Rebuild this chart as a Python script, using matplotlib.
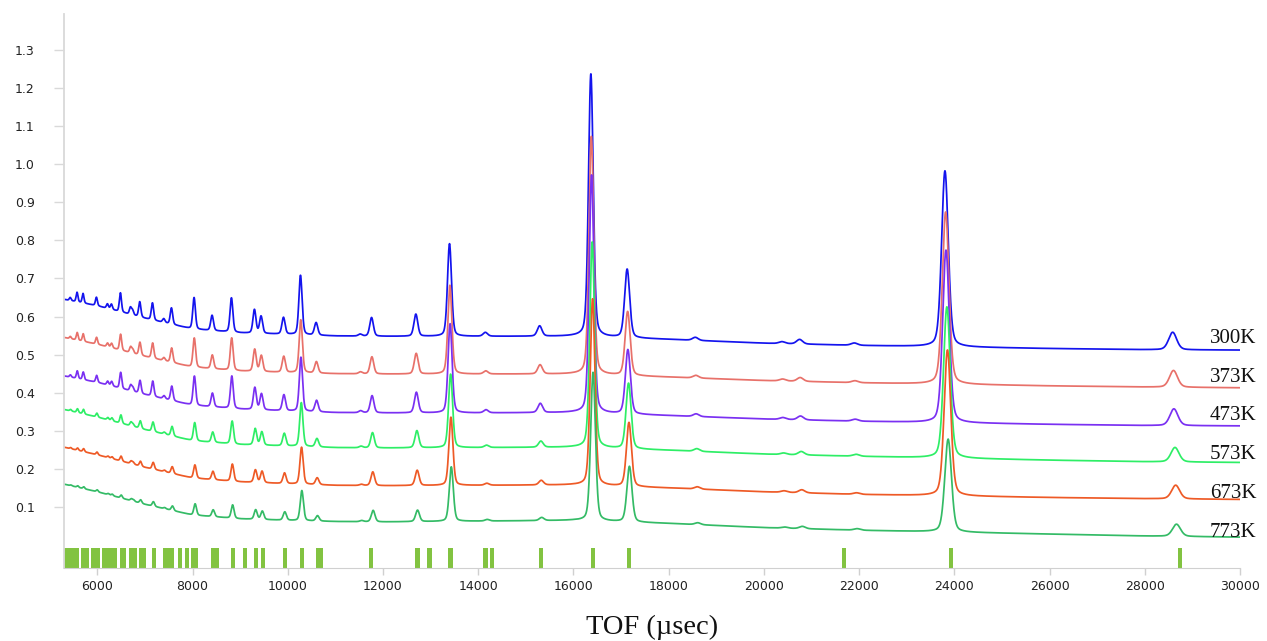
import numpy as np
import matplotlib
matplotlib.use("Agg")
import matplotlib.pyplot as plt

# temperatures, one curve each (top to bottom)
temps = ["300K", "373K", "473K", "573K", "673K", "773K"]
colors = ["#1414ee", "#e8716a", "#7a30f2", "#2eee66", "#ee5a26", "#34bb66"]

# background levels at these TOF values
bg_tof = [5300, 6000, 7000, 8000, 9000, 10000, 11000, 12000, 14000, 16000,
          18000, 20000, 22000, 24000, 26000, 28000, 30000]
bg_300 = [0.645, 0.628, 0.595, 0.567, 0.557, 0.553, 0.549, 0.548, 0.548, 0.548,
          0.540, 0.530, 0.524, 0.520, 0.516, 0.513, 0.512]
bg_373 = [0.545, 0.527, 0.495, 0.467, 0.457, 0.453, 0.450, 0.449, 0.449, 0.449,
          0.441, 0.432, 0.426, 0.422, 0.418, 0.415, 0.413]
bg_473 = [0.444, 0.427, 0.395, 0.367, 0.357, 0.352, 0.348, 0.347, 0.347, 0.348,
          0.340, 0.331, 0.325, 0.321, 0.317, 0.314, 0.313]
bg_573 = [0.356, 0.336, 0.303, 0.274, 0.264, 0.260, 0.256, 0.255, 0.256, 0.257,
          0.249, 0.239, 0.233, 0.228, 0.223, 0.219, 0.217]
bg_673 = [0.257, 0.237, 0.204, 0.176, 0.166, 0.161, 0.157, 0.156, 0.157, 0.158,
          0.150, 0.140, 0.133, 0.129, 0.125, 0.122, 0.120]
bg_773 = [0.160, 0.140, 0.107, 0.079, 0.069, 0.065, 0.062, 0.061, 0.063, 0.065,
          0.057, 0.046, 0.039, 0.034, 0.029, 0.024, 0.021]
backgrounds = [bg_300, bg_373, bg_473, bg_573, bg_673, bg_773]

# peak positions (TOF at 300K) and widths (FWHM, usec)
peak_tof = [5430, 5574, 5700, 5981, 6212, 6296, 6485, 6695, 6740, 6891, 7158, 7395,
            7557, 8032, 8410, 8817, 9300, 9439, 9910, 10267, 10595, 11520, 11760,
            12690, 13397, 14150, 15290, 16366, 17128, 18560, 20380, 20750, 21900,
            23803, 28586]
peak_fwhm = [45, 45, 45, 48, 50, 50, 52, 52, 52, 55, 58, 60,
             60, 66, 68, 70, 74, 74, 78, 80, 82, 90, 90,
             96, 100, 110, 115, 118, 125, 140, 150, 150, 160,
             165, 200]
# peak heights above background for each temperature
h_300 = [0.008, 0.025, 0.025, 0.022, 0.012, 0.014, 0.050, 0.018, 0.012, 0.040, 0.045, 0.010,
         0.043, 0.083, 0.040, 0.090, 0.062, 0.045, 0.044, 0.156, 0.033, 0.005, 0.049,
         0.058, 0.243, 0.010, 0.027, 0.690, 0.180, 0.008, 0.005, 0.012, 0.006,
         0.462, 0.046]
h_373 = [0.006, 0.020, 0.020, 0.018, 0.010, 0.012, 0.042, 0.015, 0.010, 0.034, 0.040, 0.008,
         0.038, 0.077, 0.036, 0.085, 0.058, 0.042, 0.042, 0.139, 0.030, 0.005, 0.045,
         0.054, 0.233, 0.008, 0.024, 0.625, 0.168, 0.007, 0.005, 0.010, 0.005,
         0.452, 0.044]
h_473 = [0.006, 0.020, 0.020, 0.018, 0.010, 0.012, 0.042, 0.015, 0.010, 0.034, 0.040, 0.008,
         0.038, 0.077, 0.036, 0.085, 0.058, 0.042, 0.042, 0.142, 0.030, 0.005, 0.045,
         0.054, 0.234, 0.008, 0.024, 0.625, 0.169, 0.007, 0.005, 0.010, 0.005,
         0.453, 0.044]
h_573 = [0.004, 0.010, 0.012, 0.010, 0.006, 0.008, 0.022, 0.010, 0.006, 0.020, 0.025, 0.005,
         0.025, 0.048, 0.027, 0.060, 0.043, 0.035, 0.033, 0.115, 0.022, 0.004, 0.040,
         0.045, 0.193, 0.006, 0.016, 0.540, 0.172, 0.007, 0.004, 0.009, 0.005,
         0.397, 0.038]
h_673 = [0.003, 0.006, 0.008, 0.007, 0.004, 0.005, 0.013, 0.007, 0.005, 0.013, 0.018, 0.004,
         0.018, 0.035, 0.022, 0.045, 0.033, 0.030, 0.028, 0.097, 0.018, 0.003, 0.036,
         0.040, 0.179, 0.005, 0.012, 0.490, 0.168, 0.006, 0.004, 0.008, 0.004,
         0.383, 0.036]
h_773 = [0.002, 0.004, 0.005, 0.005, 0.003, 0.004, 0.008, 0.005, 0.004, 0.009, 0.012, 0.003,
         0.012, 0.030, 0.018, 0.035, 0.025, 0.022, 0.022, 0.079, 0.014, 0.003, 0.030,
         0.030, 0.143, 0.004, 0.008, 0.390, 0.146, 0.005, 0.003, 0.006, 0.004,
         0.244, 0.032]
heights = [h_300, h_373, h_473, h_573, h_673, h_773]
# lattice expansion: peak positions grow slightly with temperature
tof_scale = [1.0, 1.0006, 1.0009, 1.0017, 1.0022, 1.0028]

# reflection markers along the bottom
bragg_tof = [5340, 5420, 5500, 5580, 5710, 5790, 5920, 6020, 6150, 6230, 6300, 6370,
             6515, 6550, 6710, 6790, 6915, 6985, 7195, 7425, 7500, 7560, 7735, 7892,
             8020, 8065, 8425, 8505, 8840, 9093, 9328, 9475, 9950, 10294, 10630, 10690,
             11758, 12725, 12977, 13418, 14153, 14292, 15318, 16420, 17174, 21676,
             23922, 28739]

label_y = [0.531, 0.429, 0.328, 0.226, 0.123, 0.021]


def profile(x, centre, fwhm, eta=0.3):
    # pseudo-Voigt peak with unit height
    sigma = fwhm / 2.3548
    g = np.exp(-0.5 * ((x - centre) / sigma) ** 2)
    lz = 1.0 / (1.0 + ((x - centre) / (fwhm / 2)) ** 2)
    return (1 - eta) * g + eta * lz


tof = np.linspace(5300, 30000, 8000)

fig = plt.figure(figsize=(12.67, 6.41), dpi=100)
ax = fig.add_axes([64 / 1267, 73 / 641, 1176 / 1267, 554 / 641])

for i in range(len(temps)):
    y = np.interp(tof, bg_tof, backgrounds[i])
    for p, w, h in zip(peak_tof, peak_fwhm, heights[i]):
        y = y + h * profile(tof, p * tof_scale[i], w)
    ax.plot(tof, y, color=colors[i], lw=1.25)
    ax.text(30350, label_y[i], temps[i], ha="right", va="baseline",
            family="Liberation Serif", fontsize=15, color="#111111", clip_on=False)

ax.bar(bragg_tof, 0.052, bottom=-0.06, width=85, color="#82c341", linewidth=0)

ax.set_xlim(5300, 30000)
ax.set_ylim(-0.06, 1.394)
ax.set_xticks(np.arange(6000, 30001, 2000))
ax.set_yticks(np.arange(1, 14) / 10)
ax.set_yticklabels([f"{v / 10:.1f}" for v in range(1, 14)])

for side in ["top", "right"]:
    ax.spines[side].set_visible(False)
ax.spines["left"].set_color("#d9d9d9")
ax.spines["bottom"].set_color("#d0d0d0")
ax.spines["left"].set_linewidth(1.3)
ax.tick_params(axis="y", length=7, width=1, color="#d9d9d9", pad=14, labelsize=9, labelcolor="#222222")
ax.tick_params(axis="x", length=5, width=1, color="#d0d0d0", pad=4, labelsize=9, labelcolor="#222222")

fig.text(652 / 1267, 7 / 641, "TOF (\u00b5sec)", ha="center", va="baseline",
         family="Liberation Serif", fontsize=20.5, color="#111111")

fig.savefig("out.png", dpi=100)
